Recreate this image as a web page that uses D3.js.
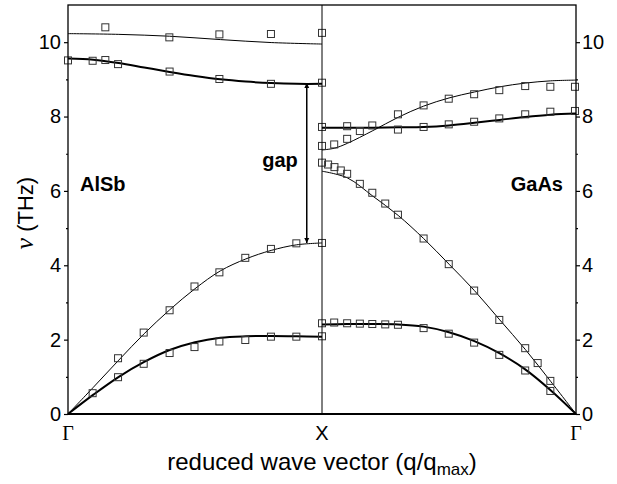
<!DOCTYPE html>
<html>
<head>
<meta charset="utf-8">
<script src="https://cdn.jsdelivr.net/npm/d3@7"></script>
<style>
  body { margin: 0; background: #fff; }
  svg { display: block; font-family: Arial, "Liberation Sans", sans-serif; }
</style>
</head>
<body>
<div id="chart"></div>
<script>
// q = reduced wave vector, 0 at Γ, 1 at X
// AlSb is drawn Γ -> X on the left, GaAs X -> Γ on the right

// AlSb measured points
const alsbTop = [[0.147, 10.40], [0.399, 10.13], [0.596, 10.21], [0.799, 10.22], [1.0, 10.25]]
const alsbOpt = [[0.0, 9.51], [0.097, 9.50], [0.147, 9.52], [0.197, 9.41], [0.40, 9.21], [0.596, 9.01], [0.799, 8.88], [1.0, 8.91]]
const alsbLA = [[0.197, 1.50], [0.298, 2.19], [0.40, 2.79], [0.498, 3.43], [0.596, 3.81], [0.698, 4.20], [0.799, 4.44], [0.899, 4.59], [1.0, 4.60]]
const alsbTA = [[0.097, 0.56], [0.197, 0.99], [0.298, 1.35], [0.40, 1.64], [0.498, 1.80], [0.596, 1.95], [0.698, 1.99], [0.799, 2.08], [0.899, 2.08], [1.0, 2.09]]

// AlSb model curves
const alsbTopFit = [[0, 10.23], [0.2, 10.21], [0.4, 10.16], [0.6, 10.07], [0.8, 9.99], [1.0, 9.95]]
const alsbOptFit = [[0, 9.56], [0.1, 9.53], [0.2, 9.44], [0.3, 9.32], [0.4, 9.20], [0.5, 9.09], [0.6, 9.00], [0.7, 8.94], [0.8, 8.90], [0.9, 8.88], [1.0, 8.88]]
const alsbLAFit = [[0, 0], [0.1, 0.72], [0.2, 1.45], [0.3, 2.16], [0.4, 2.80], [0.5, 3.37], [0.6, 3.85], [0.7, 4.17], [0.8, 4.40], [0.9, 4.55], [1.0, 4.60]]
const alsbTAFit = [[0, 0], [0.1, 0.52], [0.2, 1.0], [0.3, 1.40], [0.4, 1.72], [0.5, 1.93], [0.6, 2.05], [0.7, 2.09], [0.8, 2.10], [0.9, 2.09], [1.0, 2.08]]

// GaAs measured points
const gaasLO = [[1.0, 7.21], [0.952, 7.25], [0.901, 7.40], [0.851, 7.61], [0.701, 8.06], [0.600, 8.30], [0.501, 8.48], [0.401, 8.60], [0.302, 8.71], [0.20, 8.82], [0.101, 8.80], [0.004, 8.80]]
const gaasTO = [[1.0, 7.72], [0.901, 7.74], [0.802, 7.76], [0.701, 7.65], [0.600, 7.72], [0.501, 7.79], [0.401, 7.86], [0.302, 7.95], [0.20, 8.06], [0.101, 8.13], [0.004, 8.15]]
const gaasLA = [[1.0, 6.76], [0.976, 6.71], [0.951, 6.64], [0.926, 6.55], [0.901, 6.46], [0.851, 6.19], [0.802, 5.95], [0.751, 5.66], [0.701, 5.36], [0.600, 4.72], [0.501, 4.03], [0.401, 3.32], [0.302, 2.53], [0.20, 1.77], [0.151, 1.37], [0.101, 0.89]]
const gaasTA = [[1.0, 2.44], [0.952, 2.46], [0.901, 2.44], [0.851, 2.43], [0.802, 2.42], [0.751, 2.41], [0.701, 2.40], [0.600, 2.31], [0.501, 2.16], [0.401, 1.92], [0.302, 1.59], [0.20, 1.17], [0.101, 0.62]]

// GaAs model curves
const gaasLOFit = [[1.0, 7.10], [0.95, 7.15], [0.9, 7.28], [0.8, 7.62], [0.7, 7.98], [0.6, 8.28], [0.5, 8.50], [0.4, 8.66], [0.3, 8.80], [0.2, 8.90], [0.1, 8.96], [0, 8.98]]
const gaasTOFit = [[1.0, 7.70], [0.9, 7.70], [0.8, 7.70], [0.7, 7.71], [0.6, 7.72], [0.5, 7.76], [0.4, 7.83], [0.3, 7.91], [0.2, 7.99], [0.1, 8.05], [0, 8.08]]
const gaasLAFit = [[1.0, 6.53], [0.9, 6.35], [0.8, 5.86], [0.7, 5.34], [0.6, 4.72], [0.5, 4.03], [0.4, 3.32], [0.3, 2.53], [0.2, 1.74], [0.1, 0.88], [0, 0]]
const gaasTAFit = [[1.0, 2.41], [0.9, 2.42], [0.8, 2.42], [0.7, 2.41], [0.6, 2.35], [0.5, 2.20], [0.4, 1.96], [0.3, 1.63], [0.2, 1.20], [0.1, 0.64], [0, 0]]

const majorTicks = [0, 2, 4, 6, 8, 10]
const minorTicks = [1, 3, 5, 7, 9]
const gapEnds = [8.90, 4.60]
const gapQ = 0.94

const width = 617, height = 484
const margin = { top: 5, right: 41, bottom: 70, left: 68 }

const svg = d3.select("#chart").append("svg")
  .attr("width", width)
  .attr("height", height)

const x = d3.scaleLinear().domain([0, 2]).range([margin.left, width - margin.right])
const y = d3.scaleLinear().domain([0, 11]).range([height - margin.bottom, margin.top])

// AlSb q runs left to right, GaAs q runs right to left from Γ
const posA = d => x(d[0])
const posG = d => x(2 - d[0])

const defs = svg.append("defs")
defs.append("marker")
  .attr("id", "head")
  .attr("viewBox", "0 0 10 10")
  .attr("refX", 10).attr("refY", 5)
  .attr("markerWidth", 5).attr("markerHeight", 7)
  .attr("markerUnits", "userSpaceOnUse")
  .attr("orient", "auto-start-reverse")
  .append("path")
  .attr("d", "M0,0 L10,5 L0,10 Z")
  .attr("fill", "#000")

// Curves
const curves = [
  { data: alsbTopFit, px: posA, w: 1 },
  { data: alsbOptFit, px: posA, w: 2 },
  { data: alsbLAFit, px: posA, w: 1 },
  { data: alsbTAFit, px: posA, w: 2 },
  { data: gaasLOFit, px: posG, w: 1 },
  { data: gaasTOFit, px: posG, w: 2 },
  { data: gaasLAFit, px: posG, w: 1 },
  { data: gaasTAFit, px: posG, w: 2 }
]

curves.forEach(c => {
  const line = d3.line()
    .x(c.px)
    .y(d => y(d[1]))
    .curve(d3.curveCatmullRom.alpha(0.5))
  svg.append("path")
    .attr("d", line(c.data))
    .attr("fill", "none")
    .attr("stroke", "#000")
    .attr("stroke-width", c.w)
})

// Points
const sets = [
  { data: alsbTop, px: posA }, { data: alsbOpt, px: posA },
  { data: alsbLA, px: posA }, { data: alsbTA, px: posA },
  { data: gaasLO, px: posG }, { data: gaasTO, px: posG },
  { data: gaasLA, px: posG }, { data: gaasTA, px: posG }
]
const sq = 7
sets.forEach(s => {
  svg.append("g")
    .selectAll("rect")
    .data(s.data)
    .join("rect")
    .attr("x", d => s.px(d) - sq / 2)
    .attr("y", d => y(d[1]) - sq / 2)
    .attr("width", sq)
    .attr("height", sq)
    .attr("fill", "none")
    .attr("stroke", "#333")
    .attr("stroke-width", 1)
})

// Frame
const x0 = x(0), x1 = x(1), x2 = x(2), y0 = y(0), yT = y(11)
svg.append("rect")
  .attr("x", x0).attr("y", yT)
  .attr("width", x2 - x0).attr("height", y0 - yT)
  .attr("fill", "none").attr("stroke", "#000").attr("stroke-width", 1.3)
svg.append("line")
  .attr("x1", x1).attr("x2", x1).attr("y1", yT).attr("y2", y0)
  .attr("stroke", "#000").attr("stroke-width", 1)
svg.append("line")
  .attr("x1", x0).attr("x2", x2).attr("y1", y0).attr("y2", y0)
  .attr("stroke", "#000").attr("stroke-width", 2)

// Y axes
const leftAxis = d3.axisLeft(y).tickValues(majorTicks).tickSize(4).tickPadding(3).tickFormat(d3.format("d"))
const rightAxis = d3.axisRight(y).tickValues(majorTicks).tickSize(4).tickPadding(2).tickFormat(d3.format("d"))
svg.append("g").attr("transform", `translate(${x0},0)`).call(leftAxis)
svg.append("g").attr("transform", `translate(${x2},0)`).call(rightAxis)
svg.append("g").attr("transform", `translate(${x0},0)`)
  .call(d3.axisLeft(y).tickValues(minorTicks).tickSize(2).tickFormat(""))
svg.append("g").attr("transform", `translate(${x2},0)`)
  .call(d3.axisRight(y).tickValues(minorTicks).tickSize(2).tickFormat(""))
svg.selectAll(".domain").remove()
svg.selectAll(".tick line").attr("stroke", "#000").attr("stroke-width", 1.2)
svg.selectAll(".tick text")
  .attr("font-family", "Arial, 'Liberation Sans', sans-serif")
  .attr("font-size", 20)
  .attr("fill", "#000")

// X labels
const xLabels = [[0, "Γ", "serif"], [1, "X", "sans"], [2, "Γ", "serif"]]
svg.append("g").selectAll("text")
  .data(xLabels)
  .join("text")
  .attr("x", d => x(d[0]))
  .attr("y", 440)
  .attr("text-anchor", "middle")
  .attr("font-size", 20)
  .attr("font-family", d => d[2] === "serif" ? "'Liberation Serif', 'DejaVu Serif', serif" : "Arial, 'Liberation Sans', sans-serif")
  .text(d => d[1])

// X title
const xt = svg.append("text")
  .attr("x", 322)
  .attr("y", 470)
  .attr("text-anchor", "middle")
  .attr("font-size", 24)
xt.append("tspan").text("reduced wave vector (q/q")
xt.append("tspan").attr("font-size", 17).attr("dy", 5).text("max")
xt.append("tspan").attr("dy", -5).text(")")

// Y title
const yt = svg.append("text")
  .attr("transform", `translate(33,${y(5.4)}) rotate(-90)`)
  .attr("text-anchor", "middle")
  .attr("font-size", 22)
yt.append("tspan").attr("font-family", "'Liberation Serif', 'DejaVu Serif', serif").attr("font-style", "italic").attr("font-size", 26).text("ν")
yt.append("tspan").text(" (THz)")

// Labels
svg.append("text").attr("x", 80).attr("y", 191)
  .attr("font-size", 20).attr("font-weight", "bold").text("AlSb")
svg.append("text").attr("x", 563).attr("y", 191).attr("text-anchor", "end")
  .attr("font-size", 20).attr("font-weight", "bold").text("GaAs")
svg.append("text").attr("x", 280).attr("y", 167).attr("text-anchor", "middle")
  .attr("font-size", 20).attr("font-weight", "bold").text("gap")

// Gap arrow
svg.append("line")
  .attr("x1", x(gapQ)).attr("x2", x(gapQ))
  .attr("y1", y(gapEnds[0])).attr("y2", y(gapEnds[1]))
  .attr("stroke", "#000").attr("stroke-width", 1.5)
  .attr("marker-start", "url(#head)")
  .attr("marker-end", "url(#head)")
</script>
</body>
</html>
